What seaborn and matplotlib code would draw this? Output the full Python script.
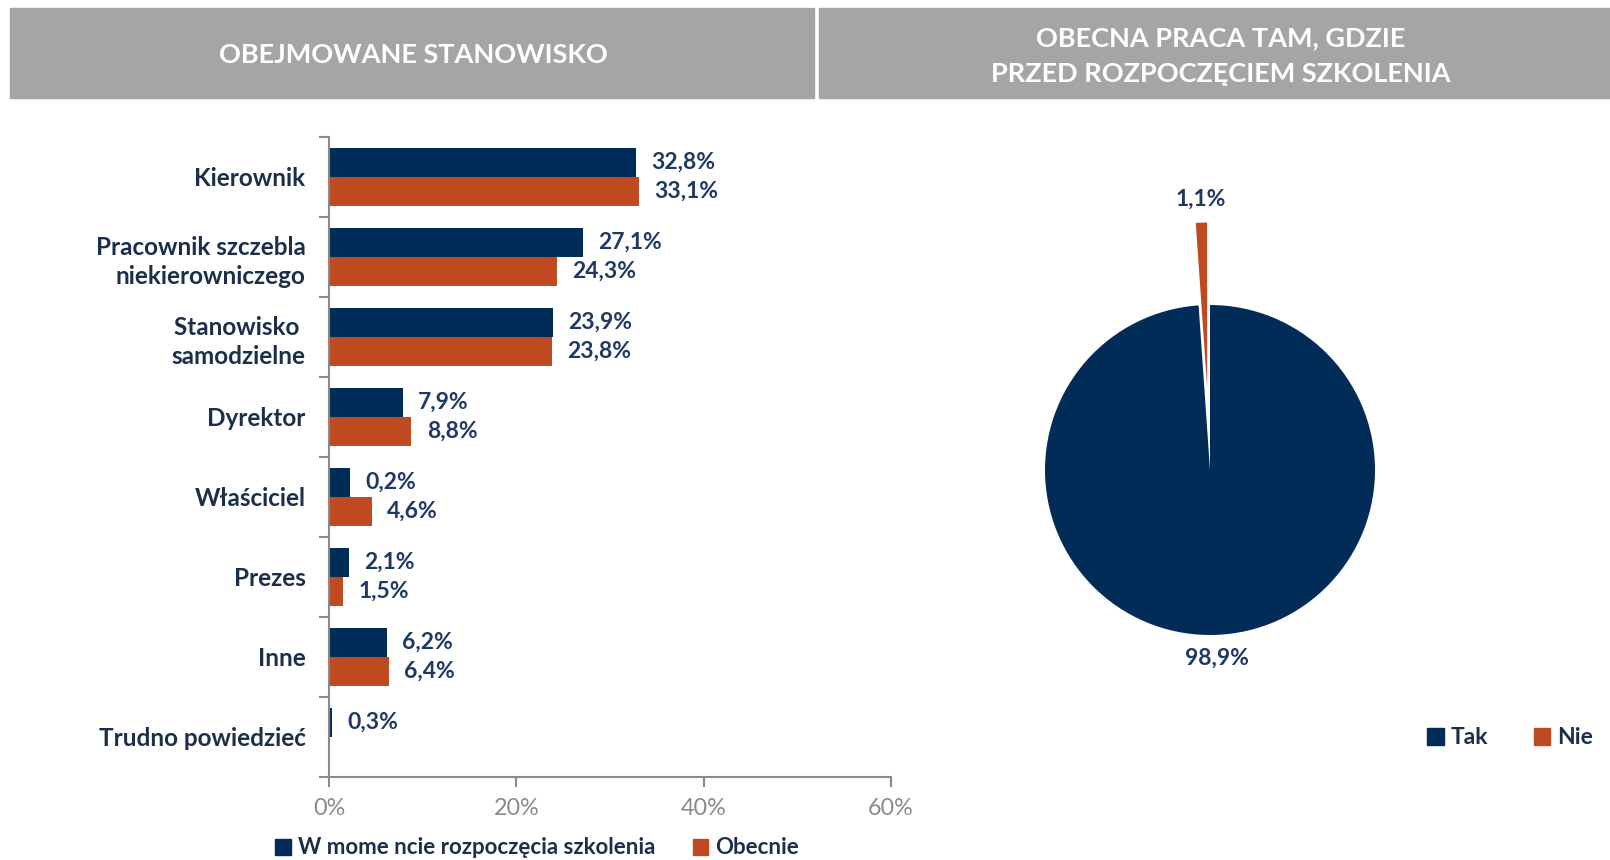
import matplotlib
matplotlib.use("Agg")
import matplotlib.pyplot as plt
import seaborn as sns
import pandas as pd
from matplotlib.patches import Rectangle

# ---------------- data ----------------
categories = ["Kierownik", "Pracownik szczebla\nniekierowniczego", "Stanowisko \nsamodzielne",
              "Dyrektor", "Właściciel", "Prezes", "Inne", "Trudno powiedzieć"]
series = ["W mome ncie rozpoczęcia szkolenia", "Obecnie"]
start_vals = [32.8, 27.1, 23.9, 7.9, 2.2, 2.1, 6.2, 0.3]
now_vals = [33.1, 24.3, 23.8, 8.8, 4.6, 1.5, 6.4, 0.0]
start_labels = ["32,8%", "27,1%", "23,9%", "7,9%", "0,2%", "2,1%", "6,2%", "0,3%"]
now_labels = ["33,1%", "24,3%", "23,8%", "8,8%", "4,6%", "1,5%", "6,4%", ""]
x_ticks = [0, 20, 40, 60]
x_tick_labels = ["0%", "20%", "40%", "60%"]
pie_names = ["Tak", "Nie"]
pie_vals = [98.9, 1.1]
pie_labels = ["98,9%", "1,1%"]
title_left = "OBEJMOWANE STANOWISKO"
title_right = "OBECNA PRACA TAM, GDZIE\nPRZED ROZPOCZĘCIEM SZKOLENIA"

NAVY = "#022c58"
ORANGE = "#bf4a22"
TEXT = "#1b2f4b"
LBL = "#1f3864"
GREY = "#8a8a8a"
HDR = "#a5a5a5"

sns.set_theme(style="white")
plt.rcParams["font.family"] = ["Lato", "DejaVu Sans"]

W, H = 1610, 860
fig = plt.figure(figsize=(W / 100, H / 100), dpi=100)

def fx(px):
    return px / W

def fy(py):
    return 1 - py / H

# header boxes
fig.patches.append(Rectangle((fx(10), fy(98)), fx(814) - fx(10), fy(8) - fy(98),
                             transform=fig.transFigure, color=HDR, zorder=0))
fig.patches.append(Rectangle((fx(819), fy(98)), fx(1610) - fx(819), fy(8) - fy(98),
                             transform=fig.transFigure, color=HDR, zorder=0))
fig.text(fx(413), fy(55), title_left, color="white", fontsize=19.5, fontweight="bold",
         ha="center", va="center")
fig.text(fx(1221), fy(56), title_right, color="white", fontsize=19.5, fontweight="bold",
         ha="center", va="center", linespacing=1.6)

# ---------------- bar chart ----------------
df = pd.DataFrame({
    "cat": categories * 2,
    "val": start_vals + now_vals,
    "series": [series[0]] * len(categories) + [series[1]] * len(categories),
})
ax = fig.add_axes([fx(329), fy(777), fx(891) - fx(329), fy(137) - fy(777)])
sns.barplot(data=df, y="cat", x="val", hue="series", order=categories, hue_order=series,
            palette=[NAVY, ORANGE], orient="h", width=0.715, ax=ax, legend=False,
            saturation=1, linewidth=0)
for cont, labs in zip(ax.containers, [start_labels, now_labels]):
    ax.bar_label(cont, labels=labs, padding=11, color=LBL, fontsize=16.5, fontweight="bold")

ax.set_xlim(0, 60)
ax.set_ylim(len(categories) - 0.5, -0.5)
ax.set_xticks(x_ticks)
ax.set_xticklabels(x_tick_labels, color=GREY, fontsize=16.8)
ax.set_yticks([i - 0.5 for i in range(len(categories) + 1)])
ax.set_yticklabels([])
ax.set_yticks(range(len(categories)), minor=True)
ax.set_yticklabels(categories, minor=True, color=TEXT, fontsize=17.5, fontweight="bold",
                   ha="right", linespacing=1.3)
ax.tick_params(axis="y", which="major", length=7, color=GREY, width=1.5, direction="out", left=True)
ax.tick_params(axis="y", which="minor", length=0, pad=17)
ax.tick_params(axis="x", length=7, color=GREY, width=1.5, direction="out", bottom=True, pad=8)
ax.set_xlabel("")
ax.set_ylabel("")
for s in ["top", "right"]:
    ax.spines[s].set_visible(False)
for s in ["left", "bottom"]:
    ax.spines[s].set_color(GREY)
    ax.spines[s].set_linewidth(1.5)
ax.grid(False)

h1 = Rectangle((0, 0), 1, 1, color=NAVY)
h2 = Rectangle((0, 0), 1, 1, color=ORANGE)
fig.legend([h1, h2], series, loc="center", bbox_to_anchor=(fx(537), fy(848)), ncol=2,
           frameon=False, handlelength=0.7, handleheight=0.7, handletextpad=0.3,
           columnspacing=1.7, prop={"weight": "bold", "size": 16}, labelcolor=TEXT)

# ---------------- pie ----------------
pax = fig.add_axes([fx(1210 - 330), fy(470 + 330), fx(660), 660 / H])
wedges, texts = pax.pie(pie_vals, colors=[NAVY, ORANGE], startangle=90, counterclock=False,
                        explode=[0, 0.5], labels=pie_labels, labeldistance=1.14,
                        textprops={"color": LBL, "fontsize": 16.5, "fontweight": "bold"},
                        wedgeprops={"linewidth": 0})
for t in texts:
    t.set_ha("center")
    t.set_va("center")
pax.set_xlim(-2, 2)
pax.set_ylim(-2, 2)
pax.set_aspect("equal")
pax.axis("off")

p1 = Rectangle((0, 0), 1, 1, color=NAVY)
p2 = Rectangle((0, 0), 1, 1, color=ORANGE)
fig.legend([p1, p2], pie_names, loc="center", bbox_to_anchor=(fx(1510), fy(738)), ncol=2,
           frameon=False, handlelength=0.7, handleheight=0.7, handletextpad=0.3,
           columnspacing=2.0, prop={"weight": "bold", "size": 16.5}, labelcolor=TEXT)

fig.savefig("out.png", dpi=100)
